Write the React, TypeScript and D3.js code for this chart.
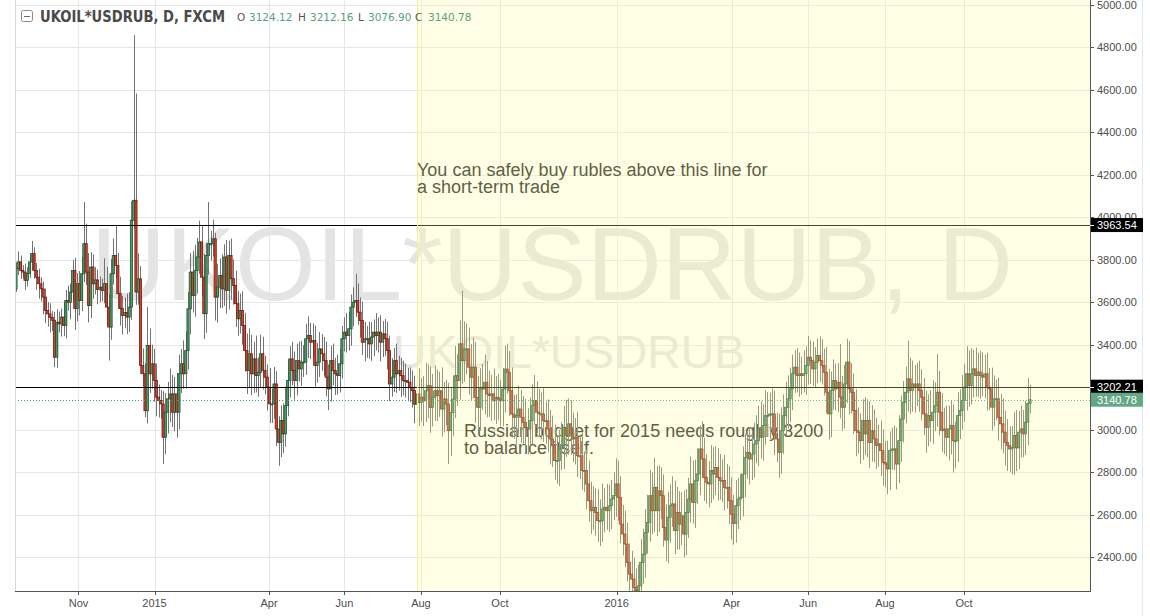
import React, { useEffect } from "react";
import * as d3 from "d3";

// ---- data (daily candles, Sep 2014 - Nov 2016) ----
const firstOpen = 3663;
const closes = [
  3758,3790,3750,3742,3703,3735,3790,3829,3750,3718,
  3687,3663,3624,3561,3545,3528,3515,3341,3506,3498,3530,3490,
  3608,3600,3648,3750,3570,3687,3608,3734,3876,3742,
  3585,3766,3687,3705,3660,3671,3655,3687,3577,3483,3734,3820,
  3773,3640,3570,3538,3552,3530,3577,3986,4080,3648,3710,
  3302,3263,3089,3396,3263,3310,3231,3153,3137,3121,
  2964,3082,3145,3168,3082,3168,3082,3263,3310,3263,
  3373,3569,3742,3632,3750,3813,3884,3718,3546,3820,
  3876,3876,3899,3624,3671,3726,3663,3813,3656,3820,
  3711,3679,3593,3522,3561,3490,3373,3278,3357,3263,
  3333,3255,3270,3357,3278,3247,3200,3121,3121,3215,
  3003,2940,3043,2980,3113,3231,3333,3278,3231,3325,
  3286,3318,3318,3428,3443,3412,3420,3302,3318,3380,
  3357,3325,3247,3192,3325,3278,3263,3255,3310,3428,
  3459,3443,3475,3577,3600,3608,3553,3514,3412,3428,
  3428,3404,3436,3459,3443,3459,3412,3451,3428,3373,
  3215,3247,3325,3263,3278,3254,3231,3231,3223,3199,
  3184,3120,3168,3128,3152,3136,3183,3207,3105,3152,
  3183,3160,3183,3097,3144,3120,2995,3081,3144,3254,
  3231,3404,3325,3380,3380,3294,3247,3294,3152,3105,
  3199,3191,3223,3168,3160,3168,3136,3152,3144,3136,
  3191,3285,3270,3183,3073,3058,3066,3097,3058,3034,
  3011,3003,3042,3113,3137,3082,3074,3074,3042,3042,
  3003,2956,2924,2854,2854,2909,2924,3011,2972,3027,
  2980,2956,2964,2877,2877,2807,2807,2744,2665,2618,
  2634,2610,2571,2571,2626,2634,2618,2641,2673,2689,
  2744,2681,2555,2508,2461,2374,2319,2296,2256,2241,
  2264,2374,2413,2516,2563,2689,2618,2728,2618,2712,
  2689,2539,2480,2587,2642,2650,2524,2610,2555,2594,
  2508,2610,2673,2744,2657,2759,2791,2909,2862,2775,
  2752,2744,2807,2791,2822,2775,2760,2760,2728,2728,
  2665,2602,2558,2642,2673,2681,2791,2869,2893,2862,
  2885,2932,2948,3003,2964,3019,3066,3066,3074,3074,
  2980,2956,2893,2995,3066,3105,3145,3192,3263,3294,
  3255,3263,3255,3263,3302,3341,3325,3286,3318,3349,
  3325,3302,3270,3176,3074,3184,3231,3192,3223,3153,
  3105,3215,3318,3192,3176,3090,2995,2987,2948,3043,
  2980,3043,2940,2995,2956,2925,2933,2901,2846,
  2838,2815,2901,2909,2909,2838,2948,3050,3129,
  3176,3239,3184,3215,3200,3215,3184,3153,3074,3011,
  3066,3043,3082,3113,3176,3082,2995,3003,2964,
  3003,3019,2948,2948,3066,3090,3137,3200,3263,
  3208,3263,3286,3255,3271,3255,3247,3263,3200,
  3192,3106,3145,3145,3058,3027,2988,2940,2925,2909,
  2917,2972,2914,2988,3003,2980,3035,3124,3140.78,
];
const upperWick = [
  30,50,30,25,40,30,40,60,30,35,
  40,30,35,40,40,50,30,40,60,50,40,70,
  50,70,40,50,60,50,60,80,196,94,
  90,70,60,60,50,50,40,120,80,60,70,80,
  142,60,80,60,70,90,70,90,778,503,120,
  60,80,50,181,80,90,70,80,60,50,
  60,90,80,120,90,80,100,90,70,110, 90,80,90,100,120,90,100,80,110,60,
  196,60,90,28,110,80,100,60,80,70, 80,90,70,60,80,90,60,80,120,90,
  80,110,70,90,80,70,60,90,70,80, 60,60,70,80,90,100,60,80,90,80,
  90,100,80,70,90,60,80,70,90,80, 70,80,90,60,70,80,60,90,70,60,
  70,90,80,60,70,126,80,70,90,80, 60,80,70,60,90,70,80,60,70,80,
  70,90,60,80,70,60,70,80,60,70, 80,70,110,120,90,100,130,100,90,110,
  120,100,90,110,80,90,100,120,110,140, 100,110,250,130,120,100,110,140,120,100,
  90,110,130,100,110,90,120,100,110,90, 100,110,120,100,110,90,100,110,90,100,
  110,90,110,100,120,90,110,100,120,90, 100,90,110,100,120,90,110,100,130,120,
  110,100,90,120,100,110,90,100,110,90, 100,90,110,100,120,90,110,100,90,110,
  120,110,100,90,110,100,90,110,100,90, 100,110,120,110,130,120,110,140,100,120,
  110,100,110,120,100,130,110,120,100,110, 120,110,100,130,110,100,120,110,130,100,
  110,100,120,110,100,90,110,100,120,110, 100,110,90,120,100,110,130,110,100,120,
  110,100,120,110,130,100,120,110,100,120, 110,100,120,110,100,120,110,100,90,80,
  90,100,80,110,90,100,80,90,70,80, 90,100,80,120,110,90,100,80,90,180,
  100,90,110,100,120,90,100,110,90,100,
  110,100,90,120,100,100,90,110,100,
  100,110,90,100,110,100,120,110,100,
  120,180,100,110,90,100,110,100,90,110,
  100,120,150,110,180,100,90,100,110,
  110,120,100,90,110,100,120,110,130,
  110,120,90,100,90,100,110,90,100,
  90,100,110,90,100,110,120,100,110,90,
  100,110,120,100,110,90,100,120,71,
];
const lowerWick = [
  15,30,40,30,45,30,20,40,40,60,
  70,60,80,60,60,70,50,47,50,40,60,50,
  60,40,80,50,100,60,70,50,40,60,
  80,60,70,50,70,60,50,60,90,158,60,50,
  60,70,80,90,60,80,70,60,40,60,60,
  40,60,31,60,90,70,100,90,80,70,
  126,80,100,110,70,90,120,80,90,70, 70,90,120,80,100,110,80,90,120,90,
  90,80,60,110,120,100,90,80,110,90, 100,90,110,80,70,90,100,110,80,100,
  90,80,100,70,90,80,110,90,90,70, 80,110,70,90,60,50,80,70,90,70,
  60,80,70,60,90,80,70,100,80,70, 80,70,90,100,60,70,100,90,80,70,
  60,80,70,80,90,70,60,80,60,90, 90,70,80,90,70,80,90,70,80,90,
  80,60,70,90,80,100,70,80,90,70, 80,90,100,110,90,120,100,130,120,90,
  110,120,100,130,110,100,157,120,110,90, 120,90,110,100,120,130,110,100,120,110,
  110,100,120,110,100,120,90,110,100,120, 120,110,100,120,110,100,130,90,120,100,
  110,120,120,110,90,100,110,120,100,110, 110,120,100,90,110,120,100,110,100,90,
  100,110,120,100,110,90,100,120,100,110, 90,110,100,120,100,110,90,100,110,100,
  100,110,90,100,110,90,100,80,70,60, 70,90,100,110,100,90,110,100,120,100,
  110,90,100,110,120,100,110,90,120,100, 110,100,120,110,100,120,110,100,90,110,
  100,110,90,120,100,110,90,100,110,100, 110,120,100,90,110,100,90,110,100,120,
  100,110,90,120,100,110,90,100,110,90, 100,110,120,100,110,90,100,110,100,90,
  80,100,90,80,100,90,110,80,90,100, 100,90,110,100,120,110,90,100,110,100,
  110,100,90,120,100,110,120,100,110,90,
  100,110,120,90,110,110,100,120,110,
  110,120,100,90,100,120,90,100,110,
  100,90,110,100,120,90,100,110,100,120,
  90,100,110,90,100,110,100,110,90,
  110,120,150,130,100,110,90,100,110,
  100,90,110,100,100,110,90,100,110,
  100,110,90,100,110,120,100,110,120,110,
  120,130,110,100,120,110,100,110,47,
];

const priceTicks = [2400, 2600, 2800, 3000, 3200, 3400, 3600, 3800, 4000, 4200, 4400, 4600, 4800, 5000];
const timeTickLabels = ["Nov", "2015", "Apr", "Jun", "Aug", "Oct", "2016", "Apr", "Jun", "Aug", "Oct"];
const timeTickBars = [27.6, 61.2, 111.8, 145.1, 178.9, 213.8, 265.4, 316.2, 350.0, 383.9, 418.9];
const levelLines = [3963.54, 3202.21];
const lastPrice = 3140.78;
const highlightStartBar = 177.2;
const titleText = "UKOIL*USDRUB, D, FXCM";
const ohlcKeys = ["O", "H", "L", "C"];
const ohlcValues = ["3124.12", "3212.16", "3076.90", "3140.78"];
const watermarkMain = "UKOIL*USDRUB, D";
const watermarkSub = "UKOIL*USDRUB";
const noteTop = ["You can safely buy rubles above this line for", "a short-term trade"];
const noteBottom = ["Russian budget for 2015 needs roughly 3200", "to balance itself."];

const W = 1150;
const H = 616;
const plotL = 15;
const plotR = 1090;
const plotB = 591;

export default function App() {
  useEffect(() => {
    document.body.style.margin = "0";
  }, []);

  const n = closes.length;
  const x = d3.scaleLinear().domain([0, n - 1]).range([16, 1030]);
  const y = d3.scaleLinear().domain([2400, 5000]).range([557, 5]);
  const bw = 2.2;

  const candles = closes.map((c, i) => {
    const o = i === 0 ? firstOpen : closes[i - 1];
    const top = Math.max(o, c);
    const bot = Math.min(o, c);
    return { i, o, c, hi: top + (upperWick[i] ?? 60), lo: bot - (lowerWick[i] ?? 60), up: c >= o };
  });

  const xHi = x(highlightStartBar);
  const font = "'Liberation Sans', Arial, sans-serif";
  const tvFont = "'DejaVu Sans', Verdana, sans-serif";
  const letterX = [237, 298, 358, 415];
  const valueX = [249, 310, 368, 428];

  return (
    <svg width={W} height={H} style={{ display: "block", background: "#fff" }}>
      <defs>
        <clipPath id="plot">
          <rect x={plotL} y={0} width={plotR - plotL} height={plotB} />
        </clipPath>
      </defs>
      <g clipPath="url(#plot)">
        {priceTicks.map((p) => (
          <line key={"h" + p} x1={plotL} x2={plotR} y1={Math.round(y(p)) + 0.5} y2={Math.round(y(p)) + 0.5} stroke="#e6e6e6" />
        ))}
        {timeTickBars.map((b, k) => (
          <line key={"v" + k} x1={Math.round(x(b)) + 0.5} x2={Math.round(x(b)) + 0.5} y1={0} y2={plotB} stroke="#e6e6e6" />
        ))}
        <text x={552} y={300} textAnchor="middle" fontFamily={font} fontSize={104} fill="#e4e4e4" textLength={922} lengthAdjust="spacingAndGlyphs">
          {watermarkMain}
        </text>
        <text x={569} y={368} textAnchor="middle" fontFamily={font} fontSize={46} fill="#e4e4e4" textLength={352} lengthAdjust="spacingAndGlyphs">
          {watermarkSub}
        </text>
        {noteTop.map((t, k) => (
          <text key={"nt" + k} x={417} y={176 + k * 17} fontFamily={font} fontSize={18} fill="#222">{t}</text>
        ))}
        {noteBottom.map((t, k) => (
          <text key={"nb" + k} x={464} y={437 + k * 17} fontFamily={font} fontSize={18} fill="#222">{t}</text>
        ))}
        {candles.map((d) => {
          const cx = Math.round(x(d.i)) + 0.5;
          return <line key={"w" + d.i} x1={cx} x2={cx} y1={y(d.hi)} y2={y(d.lo)} stroke="#737373" strokeWidth={1} />;
        })}
        {candles.map((d) => {
          const cx = x(d.i);
          const yt = y(Math.max(d.o, d.c));
          const yb = y(Math.min(d.o, d.c));
          return (
            <rect
              key={"b" + d.i}
              x={cx - bw / 2}
              y={yt}
              width={bw}
              height={Math.max(1, yb - yt)}
              fill={d.up ? "#4c9a68" : "#d4412c"}
              stroke={d.up ? "#1e5633" : "#6e1d12"}
              strokeWidth={0.8}
            />
          );
        })}
        {levelLines.map((p) => (
          <line key={"l" + p} x1={plotL} x2={plotR} y1={Math.round(y(p)) + 0.5} y2={Math.round(y(p)) + 0.5} stroke="#000" strokeWidth={1} />
        ))}
        <line x1={plotL} x2={plotR} y1={Math.round(y(lastPrice)) + 0.5} y2={Math.round(y(lastPrice)) + 0.5} stroke="#3c9c6e" strokeDasharray="1,2" />
        <rect x={xHi} y={0} width={plotR - xHi} height={plotB} fill="rgb(255,255,160)" opacity={0.28} />
        <line x1={Math.round(xHi) + 0.5} x2={Math.round(xHi) + 0.5} y1={0} y2={plotB} stroke="#f2f28a" />
      </g>

      <line x1={plotL + 0.5} x2={plotL + 0.5} y1={0} y2={plotB} stroke="#d6dbe0" />
      <line x1={plotL} x2={plotR} y1={plotB + 0.5} y2={plotB + 0.5} stroke="#555" />
      <line x1={plotR + 0.5} x2={plotR + 0.5} y1={0} y2={plotB + 1} stroke="#555" />
      <line x1={1142.5} x2={1142.5} y1={0} y2={H} stroke="#e3e8ee" />

      {priceTicks.map((p) => (
        <g key={"pt" + p}>
          <line x1={plotR} x2={plotR + 4} y1={Math.round(y(p)) + 0.5} y2={Math.round(y(p)) + 0.5} stroke="#555" />
          <text x={1097} y={y(p) + 4} fontFamily={font} fontSize={11} fill="#4d4d4d">{p.toFixed(2)}</text>
        </g>
      ))}
      {levelLines.map((p) => (
        <g key={"lb" + p}>
          <rect x={plotR + 1} y={y(p) - 7} width={52} height={14} fill="#000" />
          <line x1={plotR} x2={plotR + 4} y1={Math.round(y(p)) + 0.5} y2={Math.round(y(p)) + 0.5} stroke="#fff" />
          <text x={1097} y={y(p) + 4} fontFamily={font} fontSize={11} fill="#fff">{p.toFixed(2)}</text>
        </g>
      ))}
      <rect x={plotR + 1} y={y(lastPrice) - 7} width={52} height={14} fill="#62a884" />
      <text x={1097} y={y(lastPrice) + 4} fontFamily={font} fontSize={11} fill="#fff">{lastPrice.toFixed(2)}</text>

      {timeTickBars.map((b, k) => (
        <g key={"tt" + k}>
          <line x1={Math.round(x(b)) + 0.5} x2={Math.round(x(b)) + 0.5} y1={plotB} y2={plotB + 4} stroke="#555" />
          <text x={x(b)} y={607} textAnchor="middle" fontFamily={font} fontSize={11} fill="#4d4d4d">{timeTickLabels[k]}</text>
        </g>
      ))}

      <rect x={21.5} y={10.5} width={11} height={11} rx={2} fill="#fff" stroke="#8a8a8a" />
      <line x1={24} x2={30} y1={16.5} y2={16.5} stroke="#6a6a6a" />
      <text x={40} y={22} fontFamily={tvFont} fontSize={15} fontWeight="bold" fill="#4a4a4a" textLength={185} lengthAdjust="spacingAndGlyphs">
        {titleText}
      </text>
      <text y={21} fontFamily={tvFont} fontSize={10.5}>
        {ohlcKeys.map((k, i) => (
          <React.Fragment key={"o" + k}>
            <tspan x={letterX[i]} fill="#555">{k}</tspan>
            <tspan x={valueX[i]} fill="#5a9e80">{ohlcValues[i]}</tspan>
          </React.Fragment>
        ))}
      </text>
    </svg>
  );
}
